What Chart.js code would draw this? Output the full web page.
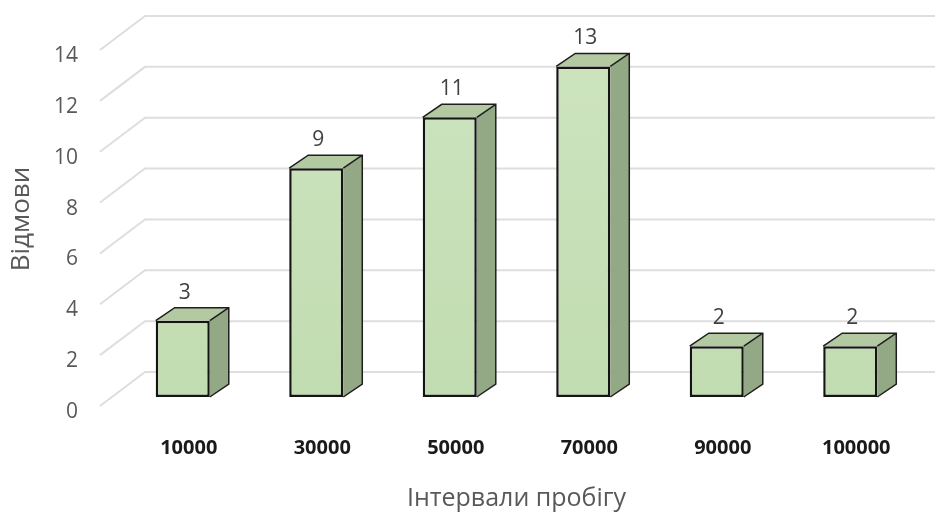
<!DOCTYPE html>
<html>
<head>
<meta charset="utf-8">
<script src="https://cdn.jsdelivr.net/npm/chart.js@4"></script>
<style>
  html, body { margin: 0; padding: 0; background: #fff; }
  #wrap { width: 940px; height: 514px; }
</style>
</head>
<body>
<div id="wrap"><canvas id="failChart"></canvas></div>
<script>
const intervals = ["10000", "30000", "50000", "70000", "90000", "100000"];
const failures = [3, 9, 11, 13, 2, 2];
const yTicks = [0, 2, 4, 6, 8, 10, 12, 14];

// depth of the bar boxes and of the walls (pixels)
const BAR_DX = 19, BAR_DY = -13;
const WALL_FRONT_X = 100, WALL_BACK_X = 145, WALL_RIGHT_X = 935;
const WALL_FRONT_DY = 9, WALL_BACK_DY = -25;

const pseudo3d = {
  id: "pseudo3d",
  beforeDatasetsDraw(chart) {
    const { ctx } = chart;
    const y = chart.scales.y;
    // side wall + back wall gridlines
    ctx.save();
    ctx.strokeStyle = "#dedede";
    ctx.lineWidth = 2;
    yTicks.forEach((v) => {
      const py = y.getPixelForValue(v);
      ctx.beginPath();
      ctx.moveTo(WALL_FRONT_X, py + WALL_FRONT_DY);
      ctx.lineTo(WALL_BACK_X, py + WALL_BACK_DY);
      ctx.lineTo(WALL_RIGHT_X, py + WALL_BACK_DY);
      ctx.stroke();
    });
    // top and side faces of every bar
    const meta = chart.getDatasetMeta(0);
    meta.data.forEach((bar) => {
      const l = bar.x - bar.width / 2, r = bar.x + bar.width / 2;
      const t = bar.y, b = bar.base;
      ctx.fillStyle = "#93a884";
      ctx.beginPath();
      ctx.moveTo(r, t);
      ctx.lineTo(r + BAR_DX, t + BAR_DY);
      ctx.lineTo(r + BAR_DX, b + BAR_DY);
      ctx.lineTo(r, b);
      ctx.closePath();
      ctx.fill();
      ctx.fillStyle = "#b3c9a2";
      ctx.beginPath();
      ctx.moveTo(l, t);
      ctx.lineTo(l + BAR_DX, t + BAR_DY);
      ctx.lineTo(r + BAR_DX, t + BAR_DY);
      ctx.lineTo(r, t);
      ctx.closePath();
      ctx.fill();
      ctx.strokeStyle = "#1e1e1e";
      ctx.lineWidth = 1.5;
      ctx.beginPath();
      ctx.moveTo(l, t);
      ctx.lineTo(l + BAR_DX, t + BAR_DY);
      ctx.lineTo(r + BAR_DX, t + BAR_DY);
      ctx.lineTo(r + BAR_DX, b + BAR_DY);
      ctx.lineTo(r, b);
      ctx.moveTo(r, t);
      ctx.lineTo(r + BAR_DX, t + BAR_DY);
      ctx.stroke();
    });
    ctx.restore();
  },
  afterDatasetsDraw(chart) {
    const { ctx } = chart;
    const meta = chart.getDatasetMeta(0);
    ctx.save();
    ctx.fillStyle = "#404040";
    ctx.font = "21px 'Open Sans', sans-serif";
    ctx.textAlign = "center";
    ctx.textBaseline = "middle";
    meta.data.forEach((bar, i) => {
      ctx.fillText(String(failures[i]), bar.x + 2, bar.y - 28);
    });
    ctx.restore();
  },
};

const ctx = document.getElementById("failChart");
const frontFill = (context) => {
  const area = context.chart.chartArea;
  if (!area) return "#c8e1b8";
  const g = context.chart.ctx.createLinearGradient(0, area.top, 0, area.bottom);
  g.addColorStop(0, "#cde4bf");
  g.addColorStop(1, "#c2dcb1");
  return g;
};

new Chart(ctx, {
  type: "bar",
  data: {
    labels: intervals,
    datasets: [
      {
        label: "Відмови",
        data: failures,
        backgroundColor: frontFill,
        borderColor: "#141414",
        borderWidth: 2.5,
        borderSkipped: false,
        barPercentage: 0.405,
        categoryPercentage: 1,
      },
    ],
  },
  plugins: [pseudo3d],
  options: {
    responsive: true,
    maintainAspectRatio: false,
    animation: false,
    layout: { padding: { top: 41, right: 23, left: 0, bottom: 0 } },
    plugins: { legend: { display: false }, tooltip: { enabled: false } },
    scales: {
      x: {
        grid: { display: false },
        border: { display: false },
        ticks: {
          color: "#1a1a1a",
          padding: 31,
          labelOffset: 6,
          font: { family: "'Open Sans', sans-serif", size: 20, weight: "bold" },
        },
        title: {
          display: true,
          text: "Інтервали пробігу",
          color: "#595959",
          padding: { top: 10, bottom: 0 },
          font: { family: "'Open Sans', sans-serif", size: 25 },
        },
        afterFit(scale) { scale.height = 117; },
      },
      y: {
        min: 0,
        max: 14,
        grid: { display: false },
        border: { display: false },
        ticks: {
          stepSize: 2,
          color: "#595959",
          padding: 30,
          labelOffset: 15,
          font: { family: "'Open Sans', sans-serif", size: 21 },
        },
        title: {
          display: true,
          text: "Відмови",
          color: "#595959",
          padding: { top: 6, bottom: 0 },
          font: { family: "'Open Sans', sans-serif", size: 26 },
        },
        afterFit(scale) {
          scale.width = 116;
          scale.paddingTop = 0;
          scale.paddingBottom = 0;
        },
      },
    },
  },
});
</script>
</body>
</html>
